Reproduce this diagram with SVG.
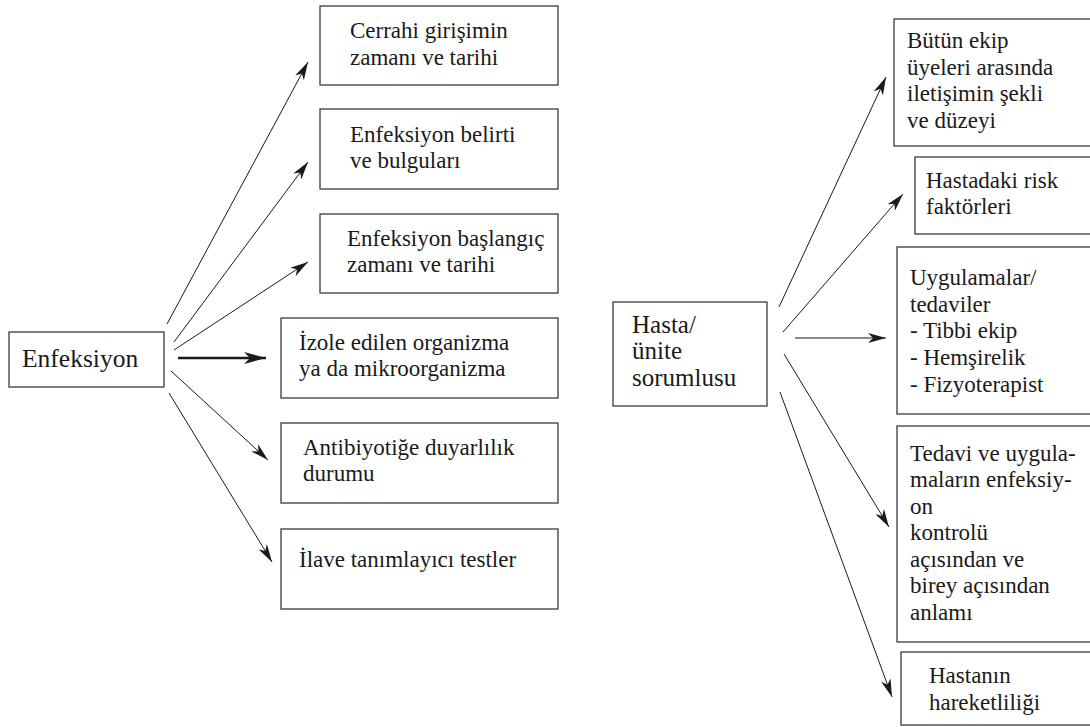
<svg xmlns="http://www.w3.org/2000/svg" width="1090" height="727" viewBox="0 0 1090 727">
<style>
.box{fill:#fff;stroke:#3a3a3a;stroke-width:1.3}
.c{stroke:#1a1a1a;stroke-width:1;fill:none;marker-end:url(#ah)}
.ck{stroke:#1a1a1a;stroke-width:2.6;fill:none;marker-end:url(#ahk)}
</style>
<defs>
<marker id="ah" viewBox="0 0 18 10" refX="18" refY="5" markerWidth="18" markerHeight="10" markerUnits="userSpaceOnUse" orient="auto">
<path d="M0,0 L18,5 L0,10 L5,5 z" fill="#1a1a1a"/>
</marker>
<marker id="ahk" viewBox="0 0 22 12" refX="22" refY="6" markerWidth="22" markerHeight="12" markerUnits="userSpaceOnUse" orient="auto">
<path d="M0,0 L22,6 L0,12 L6,6 z" fill="#1a1a1a"/>
</marker>
</defs>
<rect width="1090" height="727" fill="#fff"/>
<g id="connectors">
<line class="c" x1="167" y1="324" x2="308" y2="62"/>
<line class="c" x1="174" y1="342" x2="308" y2="162"/>
<line class="c" x1="174" y1="350" x2="308" y2="262"/>
<line class="ck" x1="178" y1="358" x2="266" y2="358"/>
<line class="c" x1="171" y1="371" x2="268" y2="460"/>
<line class="c" x1="169" y1="393" x2="272" y2="562"/>
<line class="c" x1="779" y1="307" x2="886" y2="77"/>
<line class="c" x1="783" y1="332" x2="903" y2="194"/>
<line class="c" x1="795" y1="338" x2="886" y2="338"/>
<line class="c" x1="784" y1="354" x2="889" y2="527"/>
<line class="c" x1="780" y1="392" x2="892" y2="697"/>
</g>
<g font-family="Liberation Serif" font-size="23" fill="#1a1a1a">
<g id="enfeksiyon">
<rect class="box" x="9" y="332" width="155" height="55"/>
<text x="22" y="367" font-size="25.5">Enfeksiyon</text>
</g>
<g id="cerrahi">
<rect class="box" x="320" y="6" width="238" height="79"/>
<text x="350" y="38">Cerrahi girişimin</text>
<text x="350" y="65">zamanı ve tarihi</text>
</g>
<g id="belirti">
<rect class="box" x="320" y="109" width="238" height="80"/>
<text x="350" y="142">Enfeksiyon belirti</text>
<text x="350" y="168">ve bulguları</text>
</g>
<g id="baslangic">
<rect class="box" x="320" y="214" width="238" height="79"/>
<text x="347" y="246">Enfeksiyon başlangıç</text>
<text x="347" y="272">zamanı ve tarihi</text>
</g>
<g id="izole">
<rect class="box" x="281" y="318" width="277" height="80"/>
<text x="299" y="350">İzole edilen organizma</text>
<text x="299" y="376">ya da mikroorganizma</text>
</g>
<g id="antibiyotik">
<rect class="box" x="281" y="423" width="277" height="80"/>
<text x="303" y="455">Antibiyotiğe duyarlılık</text>
<text x="303" y="481">durumu</text>
</g>
<g id="ilave">
<rect class="box" x="281" y="529" width="277" height="80"/>
<text x="299" y="567">İlave tanımlayıcı testler</text>
</g>
<g id="hasta">
<rect class="box" x="613" y="302" width="154" height="104"/>
<text x="632" y="333" font-size="25">Hasta/</text>
<text x="632" y="359" font-size="25">ünite</text>
<text x="632" y="386" font-size="25">sorumlusu</text>
</g>
<g id="iletisim">
<rect class="box" x="894" y="19" width="210" height="127"/>
<text x="907" y="48">Bütün ekip</text>
<text x="907" y="75">üyeleri arasında</text>
<text x="907" y="101">iletişimin şekli</text>
<text x="907" y="128">ve düzeyi</text>
</g>
<g id="risk">
<rect class="box" x="915" y="157" width="190" height="77"/>
<text x="926" y="188">Hastadaki risk</text>
<text x="926" y="214">faktörleri</text>
</g>
<g id="uygulamalar">
<rect class="box" x="897" y="247" width="210" height="167"/>
<text x="910" y="285">Uygulamalar/</text>
<text x="910" y="312">tedaviler</text>
<text x="910" y="338">-  Tibbi ekip</text>
<text x="910" y="365">-  Hemşirelik</text>
<text x="910" y="392">-  Fizyoterapist</text>
</g>
<g id="tedavi">
<rect class="box" x="897" y="426" width="210" height="216"/>
<text x="910" y="461">Tedavi ve uygula-</text>
<text x="910" y="487">maların enfeksiy-</text>
<text x="910" y="514">on</text>
<text x="910" y="540">kontrolü</text>
<text x="910" y="567">açısından ve</text>
<text x="910" y="593">birey açısından</text>
<text x="910" y="620">anlamı</text>
</g>
<g id="hareketlilik">
<rect class="box" x="901" y="652" width="210" height="73"/>
<text x="929" y="683">Hastanın</text>
<text x="929" y="710">hareketliliği</text>
</g>
</g>
</svg>
